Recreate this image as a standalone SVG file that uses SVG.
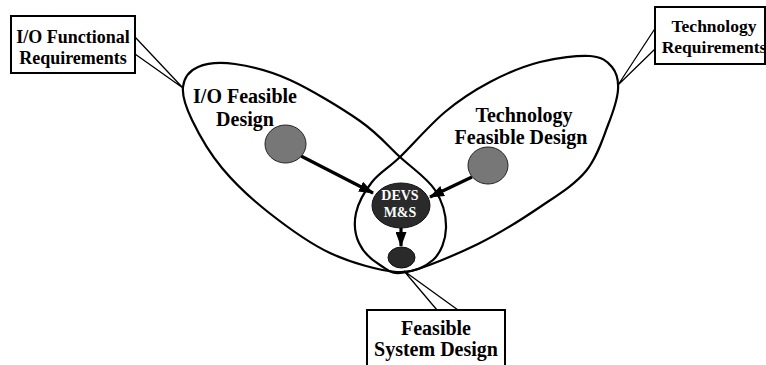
<svg xmlns="http://www.w3.org/2000/svg" width="766" height="365" viewBox="0 0 766 365">
<style>
.t{font-family:"Liberation Serif","Times New Roman",serif;font-weight:bold;fill:#000;text-anchor:middle}
.w{font-family:"Liberation Serif","Times New Roman",serif;font-weight:bold;fill:#fff;text-anchor:middle;font-size:14px}
.box{fill:#fff;stroke:#000;stroke-width:2}
.set{fill:none;stroke:#000;stroke-width:2.2}
.lead{stroke:#000;stroke-width:1.3;fill:none}
.arr{stroke:#000;stroke-width:3.2;fill:none}
.gray{fill:#777;stroke:#222;stroke-width:1}
.dark{fill:#2a2a2a;stroke:#111;stroke-width:1}
</style>
<defs>
<marker id="ah" markerUnits="userSpaceOnUse" markerWidth="15" markerHeight="11" refX="14" refY="5.5" orient="auto">
<path d="M0,0 L15,5.5 L0,11 Z" fill="#000"/>
</marker>
</defs>
<g id="sets">
<path id="io-set" class="set" d="M183,87 C184,78.2 189.3,70.8 198,67 C206.7,63.2 219.7,61.8 235,64 C250.3,66.2 269.2,70.5 290,80 C310.8,89.5 341.7,108.2 360,121 C378.3,133.8 387.5,145.5 400,157 C412.5,168.5 427.3,178.2 435,190 C442.7,201.8 446.3,216.3 446,228 C445.7,239.7 441.2,252.7 433,260 C424.8,267.3 414.2,273.2 397,272 C379.8,270.8 351.5,263 330,253 C308.5,243 286,226.2 268,212 C250,197.8 234.7,183.3 222,168 C209.3,152.7 198.5,133.5 192,120 C185.5,106.5 182,95.8 183,87 Z"/>
<path id="tech-set" class="set" d="M400,157 C412.2,145.3 430,124.5 445,112 C460,99.5 474.2,90.3 490,82 C505.8,73.7 523.3,66.3 540,62 C556.7,57.7 578,55.2 590,56 C602,56.8 607.3,61.3 612,67 C616.7,72.7 618.7,80.3 618,90 C617.3,99.7 613.3,111.5 608,125 C602.7,138.5 597.3,157.3 586,171 C574.7,184.7 558,194.8 540,207 C522,219.2 500.2,233.2 478,244 C455.8,254.8 423.3,268.5 407,272 C390.7,275.5 388,269.8 380,265 C372,260.2 363,251.7 359,243 C355,234.3 353.8,223.2 356,213 C358.2,202.8 364.7,191.3 372,182 C379.3,172.7 387.8,168.7 400,157 Z"/>
<text class="t" font-size="20" x="245" y="103">I/O Feasible</text>
<text class="t" font-size="20" x="245" y="126">Design</text>
<text class="t" font-size="20" x="524" y="122">Technology</text>
<text class="t" font-size="20" x="521" y="144">Feasible Design</text>
</g>
<g id="connectors">
<path class="lead" d="M135,37 L183,88 M135,54 L183,88"/>
<path class="lead" d="M656,27 L618,85 M655,49 L618,85"/>
<path class="lead" d="M404,271 L437,310 M404,271 L458,310"/>
<path class="arr" d="M301,156 L373,193" marker-end="url(#ah)"/>
<path class="arr" d="M472,177 L430,197" marker-end="url(#ah)"/>
<path class="arr" d="M401,228 L401,246" marker-end="url(#ah)"/>
</g>
<g id="io-req">
<rect class="box" x="11" y="16" width="124" height="57"/>
<text class="t" font-size="18" x="73" y="43">I/O Functional</text>
<text class="t" font-size="18" x="73" y="64">Requirements</text>
</g>
<g id="tech-req">
<rect class="box" x="655" y="7" width="110" height="57"/>
<text class="t" font-size="17.5" x="714" y="32">Technology</text>
<text class="t" font-size="17.5" x="714" y="53">Requirements</text>
</g>
<g id="io-design">
<ellipse class="gray" cx="285.5" cy="144" rx="20.5" ry="19"/>
</g>
<g id="tech-design">
<ellipse class="gray" cx="488" cy="165.5" rx="20" ry="18.5"/>
</g>
<g id="devs">
<ellipse class="dark" cx="401" cy="205.5" rx="29" ry="22.5"/>
<text class="w" x="400" y="200">DEVS</text>
<text class="w" x="400" y="217">M&amp;S</text>
</g>
<g id="system-point">
<ellipse class="dark" cx="401.5" cy="257.5" rx="13.5" ry="10.5"/>
</g>
<g id="feasible-system">
<rect class="box" x="367" y="310" width="138" height="70"/>
<text class="t" font-size="20" x="436" y="335">Feasible</text>
<text class="t" font-size="20" x="436" y="356">System Design</text>
</g>
</svg>
